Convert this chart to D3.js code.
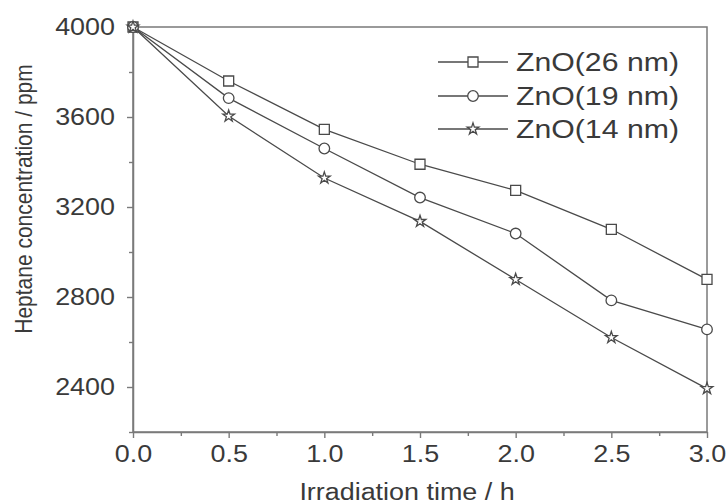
<!DOCTYPE html>
<html>
<head>
<meta charset="utf-8">
<script src="https://cdn.jsdelivr.net/npm/d3@7"></script>
<style>
  body { margin: 0; background: #fff; }
  svg text { font-family: "Liberation Sans", Arial, sans-serif; fill: #3a3a3a; }
</style>
</head>
<body>
<div id="chart"></div>
<script>
// data
var times      = [0, 0.5, 1.0, 1.5, 2.0, 2.5, 3.0];
var zno26      = [4000, 3760, 3545, 3390, 3274, 3101, 2878];
var zno19      = [4000, 3684, 3460, 3242, 3082, 2785, 2656];
var zno14      = [4000, 3604, 3329, 3136, 2878, 2620, 2393];
var seriesNames = ['ZnO(26 nm)', 'ZnO(19 nm)', 'ZnO(14 nm)'];
var xTicks     = [0, 0.5, 1.0, 1.5, 2.0, 2.5, 3.0];
var yTicks     = [2400, 2800, 3200, 3600, 4000];

// chart params
var width  = 727;
var height = 504;
var margin = {top: 27, right: 20, bottom: 72, left: 133};
var stretch = 1.17;  // text in the source looks a bit wide

var axis_color = '#7a7a7a';
var line_color = '#4a4a4a';

var svg = d3.select('#chart')
    .append('svg')
    .attr('width', width)
    .attr('height', height);

var x_scale = d3.scaleLinear()
    .domain([0, 3])
    .range([margin.left, width - margin.right]);

var y_scale = d3.scaleLinear()
    .domain([2200, 4000])
    .range([height - margin.bottom, margin.top]);

// frame
svg.append('rect')
    .attr('x', x_scale(0))
    .attr('y', y_scale(4000))
    .attr('width', x_scale(3) - x_scale(0))
    .attr('height', y_scale(2200) - y_scale(4000))
    .attr('fill', 'none')
    .attr('stroke', axis_color)
    .attr('stroke-width', 1.5);

// minor ticks
svg.append('g')
    .attr('transform', 'translate(0,' + y_scale(2200) + ')')
    .call(d3.axisBottom(x_scale).tickValues(d3.range(0.25, 3, 0.5)).tickSize(4).tickFormat(''))
    .call(function(g) { g.select('.domain').remove(); })
    .selectAll('line').attr('stroke', axis_color).attr('stroke-width', 1.4);

svg.append('g')
    .attr('transform', 'translate(' + x_scale(0) + ',0)')
    .call(d3.axisLeft(y_scale).tickValues(d3.range(2200, 4000, 400)).tickSize(4).tickFormat(''))
    .call(function(g) { g.select('.domain').remove(); })
    .selectAll('line').attr('stroke', axis_color).attr('stroke-width', 1.4);

// major axes
var x_axis = svg.append('g')
    .attr('transform', 'translate(0,' + y_scale(2200) + ')')
    .call(d3.axisBottom(x_scale).tickValues(xTicks).tickFormat(d3.format('.1f'))
          .tickSize(6).tickSizeOuter(0).tickPadding(8));

var y_axis = svg.append('g')
    .attr('transform', 'translate(' + x_scale(0) + ',0)')
    .call(d3.axisLeft(y_scale).tickValues(yTicks).tickFormat(d3.format('d'))
          .tickSize(6).tickSizeOuter(0).tickPadding(12));

[x_axis, y_axis].forEach(function(ax) {
    ax.select('.domain').attr('stroke', axis_color).attr('stroke-width', 1.5);
    ax.selectAll('line').attr('stroke', axis_color).attr('stroke-width', 1.4);
    ax.selectAll('text').attr('font-size', '23px').style('fill', '#3a3a3a')
      .attr('font-family', '"Liberation Sans", Arial, sans-serif');
});

x_axis.selectAll('text').attr('transform', 'scale(' + stretch + ',1)')
    .attr('x', function() { return 0; });

y_axis.selectAll('text').each(function() {
    var t = d3.select(this);
    var xx = +t.attr('x');
    t.attr('x', 0).attr('transform', 'translate(' + xx + ',0) scale(' + stretch + ',1)');
});

// lines + markers
var line = d3.line()
    .x(function(d) { return x_scale(d[0]); })
    .y(function(d) { return y_scale(d[1]); });

var series = [zno26, zno19, zno14];
var symbols = [
    d3.symbol().type(d3.symbolSquare).size(100),
    d3.symbol().type(d3.symbolCircle).size(88),
    d3.symbol().type(d3.symbolStar).size(42)
];

series.forEach(function(vals, i) {
    var pts = times.map(function(t, j) { return [t, vals[j]]; });
    svg.append('path')
        .datum(pts)
        .attr('d', line)
        .attr('fill', 'none')
        .attr('stroke', line_color)
        .attr('stroke-width', 1.3);
});

series.forEach(function(vals, i) {
    svg.append('g').selectAll('path')
        .data(times.map(function(t, j) { return [t, vals[j]]; }))
        .enter()
        .append('path')
        .attr('transform', function(d) {
            return 'translate(' + x_scale(d[0]) + ',' + y_scale(d[1]) + ')';
        })
        .attr('d', symbols[i])
        .attr('fill', '#fff')
        .attr('stroke', line_color)
        .attr('stroke-width', 1.3);
});

// legend
var legend_y = [62, 96, 129];
var legend = svg.append('g');
seriesNames.forEach(function(name, i) {
    var g = legend.append('g').attr('transform', 'translate(0,' + legend_y[i] + ')');
    g.append('line')
        .attr('x1', 438).attr('x2', 508)
        .attr('stroke', line_color).attr('stroke-width', 1.3);
    g.append('path')
        .attr('transform', 'translate(473,0)')
        .attr('d', symbols[i])
        .attr('fill', '#fff')
        .attr('stroke', line_color)
        .attr('stroke-width', 1.3);
    g.append('text')
        .attr('transform', 'translate(516,9) scale(1.21,1)')
        .attr('font-size', '25px')
        .text(name);
});

// axis titles
svg.append('text')
    .attr('transform', 'translate(407,500) scale(' + stretch + ',1)')
    .attr('text-anchor', 'middle')
    .attr('font-size', '23px')
    .text('Irradiation time / h');

svg.append('text')
    .attr('transform', 'translate(32,199) rotate(-90) scale(1,' + stretch + ')')
    .attr('text-anchor', 'middle')
    .attr('font-size', '21px')
    .text('Heptane concentration / ppm');
</script>
</body>
</html>
